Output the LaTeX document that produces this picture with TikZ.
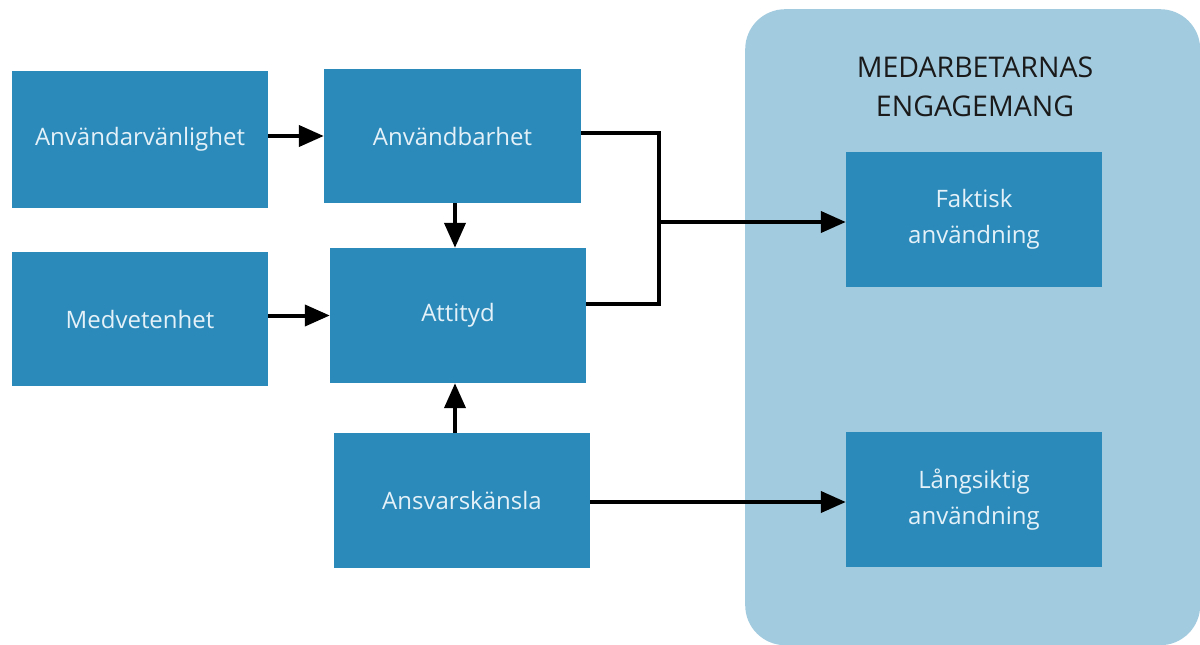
\documentclass[tikz,border=0pt]{standalone}
\usepackage{fontspec}
\setmainfont{Open Sans}
\usetikzlibrary{arrows.meta}
\definecolor{boxblue}{HTML}{2B8ABA}
\definecolor{panel}{HTML}{A3CBDF}
\definecolor{boxtext}{HTML}{E4F1F8}
\definecolor{titletext}{HTML}{1A1A1A}
\begin{document}
\begin{tikzpicture}[x=1pt,y=-1pt,
  box/.style={fill=boxblue, draw=none, minimum width=256pt, minimum height=135pt,
    inner sep=0pt, text=boxtext, align=center,
    font=\fontsize{24}{36}\selectfont},
  conn/.style={line width=4pt, draw=black},
  arr/.style={conn, -{Triangle[length=25pt,width=21pt]}}]
\useasboundingbox (0,0) rectangle (1200,645);
% panel
\node[fill=panel, rounded corners=40pt, minimum width=455pt, minimum height=636pt, inner sep=0pt, anchor=north west] (panel) at (745,9) {};
\node[text=titletext, align=center, font=\fontsize{28.5}{39}\selectfont] (title) at (975,87) {MEDARBETARNAS\\ENGAGEMANG};
% boxes
\node[box, minimum height=137pt] (uv) at (140,139.5) {Användarvänlighet};
\node[box, minimum width=257pt, minimum height=134pt] (ub) at (452.5,136) {Användbarhet};
\node[box, minimum height=134pt] (mv) at (140,319) {Medvetenhet};
\node[box] (at) at (458,315.5) {Attityd};
\node[box] (an) at (462,500.5) {Ansvarskänsla};
\node[box] (fa) at (974,219.5) {Faktisk\\användning};
\node[box] (la) at (974,499.5) {Långsiktig\\användning};
% connectors
\coordinate (j) at (659,222);
\draw[arr] (uv.east |- ub) -- (ub);
\draw[arr] ([xshift=2.5pt]ub.south) -- ([xshift=2.5pt]ub.south |- at.north);
\draw[arr] (mv.east |- at) -- (at);
\draw[arr] ([xshift=-7pt]an.north) -- ([xshift=-7pt]an.north |- at.south);
\draw[conn] ([yshift=3pt]ub.east) -- ([yshift=3pt]ub.east -| j) -- (j);
\draw[conn] ([yshift=12pt]at.east) -- ([yshift=12pt]at.east -| j) -- (j);
\draw[arr] (j) -- (j -| fa.west);
\draw[arr] ([yshift=-1.5pt]an.east) -- ([yshift=-1.5pt]an.east -| la.west);
\end{tikzpicture}
\end{document}
